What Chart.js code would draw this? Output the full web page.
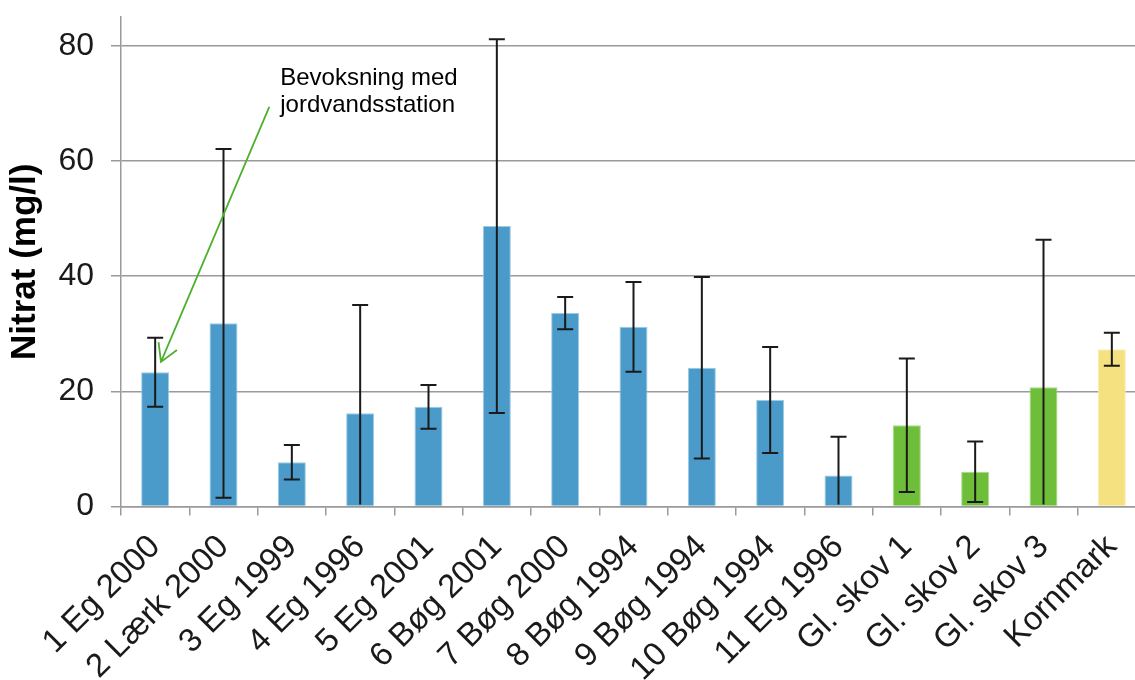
<!DOCTYPE html>
<html>
<head>
<meta charset="utf-8">
<script src="https://cdn.jsdelivr.net/npm/chart.js"></script>
<style>
  html, body { margin:0; padding:0; background:#fff; overflow:hidden; width:1135px; height:680px; }
  #wrap { position:absolute; left:0; top:0; width:1146px; height:680px; }
</style>
</head>
<body>
<div id="wrap"><canvas id="c"></canvas></div>
<script>
// ---- data ----
const categories = ["1 Eg 2000","2 Lærk 2000","3 Eg 1999","4 Eg 1996","5 Eg 2001","6 Bøg 2001","7 Bøg 2000","8 Bøg 1994","9 Bøg 1994","10 Bøg 1994","11 Eg 1996","Gl. skov 1","Gl. skov 2","Gl. skov 3","Kornmark"];
const nitrat = [23.3, 31.8, 7.7, 16.2, 17.3, 48.7, 33.6, 31.2, 24.1, 18.5, 5.4, 14.1, 6.05, 20.7, 27.3];
const stdErr = [6.0, 30.3, 3.0, 18.8, 3.8, 32.45, 2.8, 7.8, 15.75, 9.2, 6.7, 11.6, 5.25, 25.6, 2.85];
const groups = ["bev","bev","bev","bev","bev","bev","bev","bev","bev","bev","bev","gl","gl","gl","korn"];
const yTicks = [0, 20, 40, 60, 80];
const annotationLines = ["Bevoksning med", "jordvandsstation"];

// ---- styles ----
const fillColors = { bev: "#4A9BCA", gl: "#6FBE3A", korn: "#F5E17F" };
const edgeColors = { bev: "#9CCBE6", gl: "#A9DC86", korn: "#FAEFB8" };

const errorBarPlugin = {
  id: "errorBars",
  afterDatasetsDraw(chart) {
    const ctx = chart.ctx, y = chart.scales.y, area = chart.chartArea;
    const meta = chart.getDatasetMeta(0);
    ctx.save();
    ctx.strokeStyle = "#1a1a1a";
    ctx.lineWidth = 2;
    const cap = 8;
    meta.data.forEach((bar, i) => {
      const hi = nitrat[i] + stdErr[i], lo = nitrat[i] - stdErr[i];
      const yh = y.getPixelForValue(hi);
      const clipped = lo < 0;
      const yl = clipped ? area.bottom - 2 : y.getPixelForValue(lo);
      const x = bar.x;
      ctx.beginPath();
      ctx.moveTo(x, yh); ctx.lineTo(x, yl);
      ctx.moveTo(x - cap, yh); ctx.lineTo(x + cap, yh);
      if (!clipped) { ctx.moveTo(x - cap, yl); ctx.lineTo(x + cap, yl); }
      ctx.stroke();
    });
    ctx.restore();
  }
};

const annotationPlugin = {
  id: "arrowNote",
  afterDraw(chart) {
    const ctx = chart.ctx, xs = chart.scales.x, ys = chart.scales.y;
    const x0 = xs.getPixelForValue(1.67), y0 = ys.getPixelForValue(69.4);
    const x1 = xs.getPixelForValue(0.085), y1 = ys.getPixelForValue(25.1);
    ctx.save();
    ctx.strokeStyle = "#4DB02E";
    ctx.lineWidth = 1.8;
    ctx.beginPath();
    ctx.moveTo(x0, y0); ctx.lineTo(x1, y1);
    const ang = Math.atan2(y0 - y1, x0 - x1);
    const len = 20, spread = Math.PI / 6;
    ctx.moveTo(x1 + len * Math.cos(ang + spread), y1 + len * Math.sin(ang + spread));
    ctx.lineTo(x1, y1);
    ctx.lineTo(x1 + len * Math.cos(ang - spread), y1 + len * Math.sin(ang - spread));
    ctx.stroke();
    ctx.fillStyle = "#000";
    ctx.font = "24px 'Liberation Sans', Arial, sans-serif";
    ctx.textAlign = "left";
    ctx.textBaseline = "alphabetic";
    const tx = xs.getPixelForValue(1.83);
    ctx.fillText(annotationLines[0], tx, ys.getPixelForValue(73.2));
    ctx.fillText(annotationLines[1], tx, ys.getPixelForValue(68.5));
    ctx.restore();
  }
};

new Chart(document.getElementById("c"), {
  type: "bar",
  data: {
    labels: categories,
    datasets: [{
      data: nitrat,
      backgroundColor: groups.map(g => fillColors[g]),
      borderColor: groups.map(g => edgeColors[g]),
      borderWidth: 1,
      barPercentage: 0.41,
      categoryPercentage: 1.0
    }]
  },
  options: {
    responsive: true,
    maintainAspectRatio: false,
    animation: false,
    layout: { padding: { top: 17, right: 0, bottom: 0, left: 0 } },
    plugins: { legend: { display: false }, tooltip: { enabled: false } },
    scales: {
      x: {
        grid: { drawOnChartArea: false, drawTicks: true, tickLength: 9, color: "#9a9a9a", lineWidth: 1.5 },
        border: { display: true, color: "#9a9a9a", width: 1.5 },
        ticks: {
          autoSkip: false, maxRotation: 45, minRotation: 45,
          color: "#1a1a1a", padding: 12,
          font: { family: "'Liberation Sans', Arial, sans-serif", size: 33 }
        },
        afterFit(scale) { scale.height = 173.5; scale.paddingLeft = 0; scale.paddingRight = 0; }
      },
      y: {
        min: 0, max: 85,
        afterBuildTicks(scale) { scale.ticks = yTicks.map(v => ({ value: v })); },
        grid: { color: "#9a9a9a", lineWidth: 1.5, tickLength: 10 },
        border: { display: true, color: "#9a9a9a", width: 1.5 },
        ticks: {
          color: "#1a1a1a", padding: 17,
          font: { family: "'Liberation Sans', Arial, sans-serif", size: 32 }
        },
        title: {
          display: true, text: "Nitrat (mg/l)", color: "#000",
          font: { family: "'Liberation Sans', Arial, sans-serif", size: 35, weight: "bold" },
          padding: { top: 4, bottom: 0 }
        },
        afterFit(scale) { scale.width = 121; scale.paddingTop = 0; scale.paddingBottom = 0; }
      }
    }
  },
  plugins: [errorBarPlugin, annotationPlugin]
});
</script>
</body>
</html>
